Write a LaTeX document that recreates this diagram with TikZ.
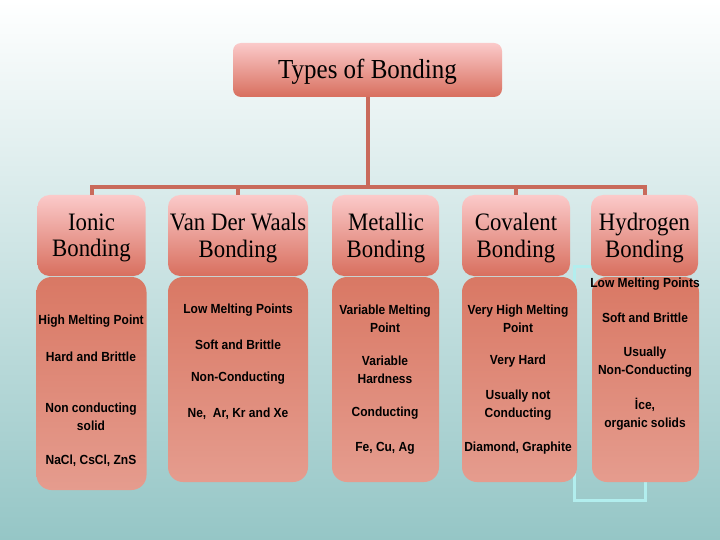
\documentclass[tikz,border=0pt]{standalone}
\usepackage{fontspec}
\setmainfont{Liberation Serif}
\setsansfont{Liberation Sans}
\begin{document}
\begin{tikzpicture}[x=1pt,y=-1pt,
  bus/.style={draw=busc, line width=4pt},
  hbox/.style={rounded corners=12pt, top color=hT, bottom color=hB, draw=none, inner sep=0pt, minimum height=81pt},
  bbox/.style={rounded corners=15pt, top color=bT, bottom color=bB, draw=none, inner sep=0pt},
  htxt/.style={font=\rmfamily\fontsize{22.8}{24}\selectfont, align=center, inner sep=0pt, yscale=1.1, text=black},
  btxt/.style={font=\sffamily\bfseries\fontsize{12}{16}\selectfont, align=center, inner sep=0pt, yscale=1.1, text=black}]
\definecolor{hT}{HTML}{FBCACA}
\definecolor{hB}{HTML}{D86F5E}
\definecolor{bT}{HTML}{D97864}
\definecolor{bB}{HTML}{E59C8E}
\definecolor{busc}{HTML}{C96A5B}
\definecolor{bgM}{HTML}{D4E8E8}
\definecolor{bgB}{HTML}{95C6C6}
\definecolor{cyl}{HTML}{B2EEEE}
\useasboundingbox (0,0) rectangle (720,540);
\shade[top color=white, middle color=bgM, bottom color=bgB] (0,0) rectangle (720,540);
% cyan outline behind hydrogen column
\draw[cyl, line width=3pt] (574,266) rectangle (645,500);
% title
\node[hbox, rounded corners=8pt, minimum width=269pt, minimum height=54pt] (title) at (367.5,70) {};
\node[htxt, font=\rmfamily\fontsize{25}{28}\selectfont] (titlet) at (367.5,72) {Types of Bonding};
% headers
\node[hbox, minimum width=108pt] (ionic) at (91.5,235.5) {};
\node[hbox, minimum width=140pt] (vdw) at (238,235.5) {};
\node[hbox, minimum width=107pt] (metal) at (385.5,235.5) {};
\node[hbox, minimum width=108pt] (cov) at (516,235.5) {};
\node[hbox, minimum width=107pt] (hyd) at (644.5,235.5) {};
% bodies
\node[bbox, minimum width=110pt, minimum height=213pt] (ionicb) at (91.5,383.5) {};
\node[bbox, minimum width=140pt, minimum height=205pt] (vdwb) at (238,379.5) {};
\node[bbox, minimum width=107pt, minimum height=205pt] (metalb) at (385.5,379.5) {};
\node[bbox, minimum width=115pt, minimum height=205pt] (covb) at (519.5,379.5) {};
\node[bbox, minimum width=107pt, minimum height=205pt] (hydb) at (645.5,379.5) {};
% connectors
\coordinate (bc) at (367.5,187);
\draw[bus] (title.south) -- (bc);
\draw[bus] (ionic.north) -- (ionic.north |- bc) -- (hyd.north |- bc) -- (hyd.north);
\draw[bus] (vdw.north) -- (vdw.north |- bc);
\draw[bus] (cov.north) -- (cov.north |- bc);
% header texts
\node[htxt] (ionict) at (91.5,238) {Ionic\\Bonding};
\node[htxt] (vdwt) at (238,238) {Van Der Waals\\Bonding};
\node[htxt] (metalt) at (386,238) {Metallic\\Bonding};
\node[htxt] (covt) at (516,238) {Covalent\\Bonding};
\node[htxt] (hydt) at (644.5,238) {Hydrogen\\Bonding};
% ionic body
\node[btxt] (i1) at (91,321.5) {High Melting Point};
\node[btxt] (i2) at (91,356.5) {Hard and Brittle};
\node[btxt] (i3) at (91,417) {Non conducting\\solid};
\node[btxt] (i4) at (91,461) {NaCl, CsCl, ZnS};
% vdw body
\node[btxt] (v1) at (238,310) {Low Melting Points};
\node[btxt] (v2) at (238,344.5) {Soft and Brittle};
\node[btxt] (v3) at (238,378.5) {Non-Conducting};
\node[btxt] (v4) at (238,414) {Ne,\ \ Ar, Kr and Xe};
% metallic body
\node[btxt] (m1) at (385,319) {Variable Melting\\Point};
\node[btxt] (m2) at (385,370) {Variable\\Hardness};
\node[btxt] (m3) at (385,413.5) {Conducting};
\node[btxt] (m4) at (385,448.5) {Fe, Cu, Ag};
% covalent body
\node[btxt] (c1) at (518,319) {Very High Melting\\Point};
\node[btxt] (c2) at (518,361.5) {Very Hard};
\node[btxt] (c3) at (518,405) {Usually not\\Conducting};
\node[btxt] (c4) at (518,448.5) {Diamond, Graphite};
% hydrogen body
\node[btxt] (h1) at (645,284) {Low Melting Points};
\node[btxt] (h2) at (645,318) {Soft and Brittle};
\node[btxt] (h3) at (645,362) {Usually\\Non-Conducting};
\node[btxt] (h4) at (645,414) {İce,\\organic solids};
\end{tikzpicture}
\end{document}
